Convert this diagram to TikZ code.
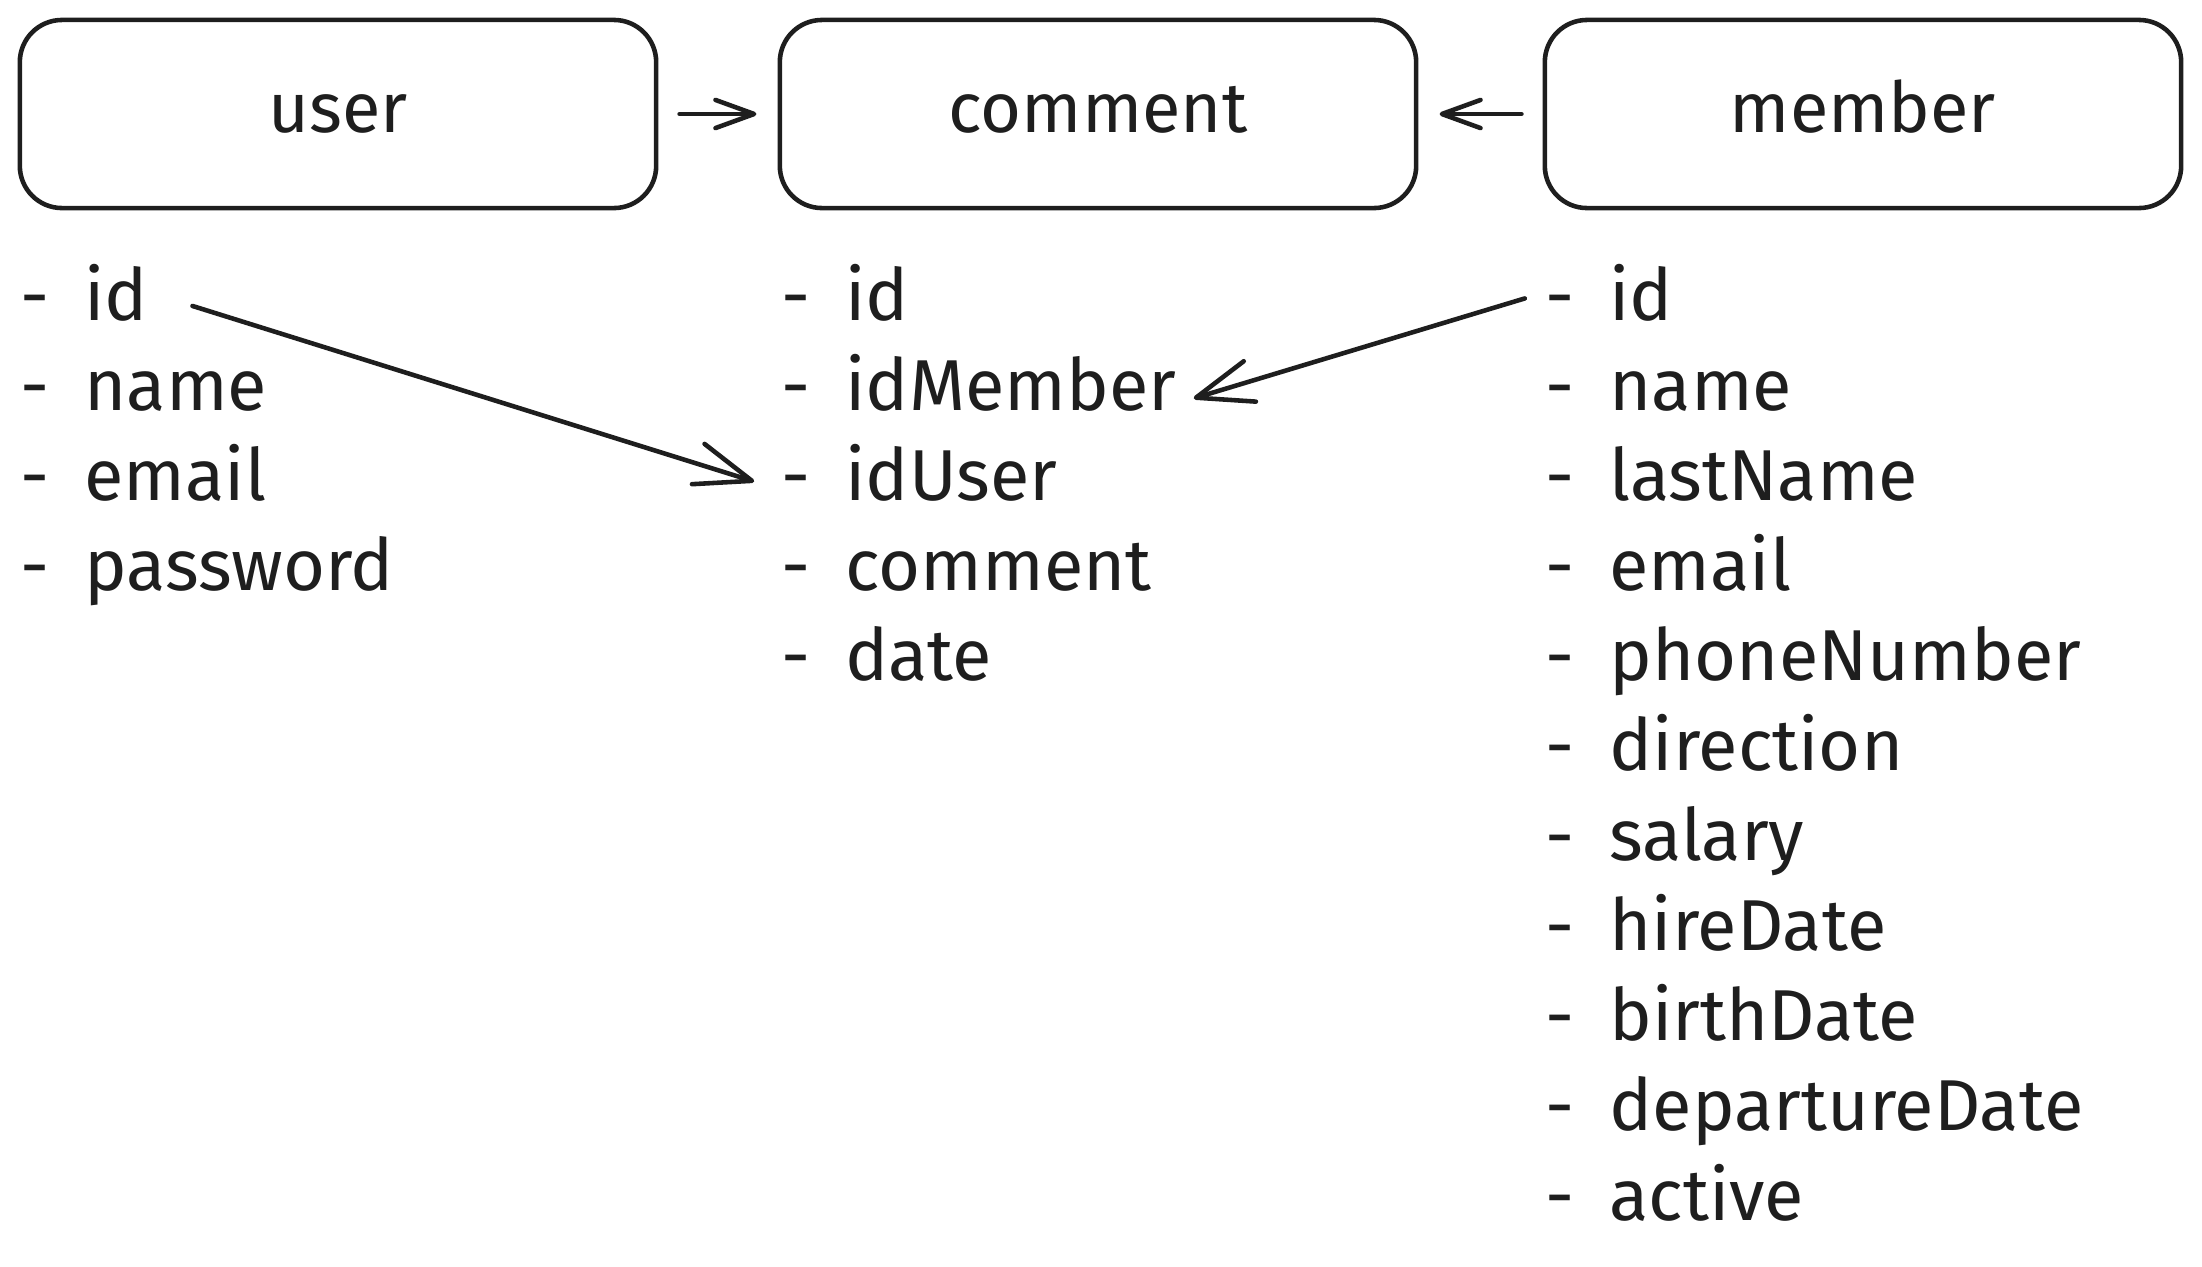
\documentclass[tikz,border=0pt]{standalone}
\usepackage{fontspec}
\setmainfont{Fira Sans}
\usetikzlibrary{arrows.meta}
\definecolor{ink}{HTML}{1E1E1E}
\newcommand\attr[1]{\makebox[18.2pt][l]{-}#1}
\tikzset{
  table/.style={draw=ink,text=ink,line width=1.3pt,rounded corners=12pt,
    minimum width=6.36cm,minimum height=1.88cm,text height=10.5pt,text depth=0pt,
    font=\fontsize{20}{24}\selectfont},
  field/.style={anchor=base west,inner sep=0pt,text=ink,font=\fontsize{20.5}{24}\selectfont},
  link/.style={draw=ink,line width=1.3pt,line cap=round,
    -{Straight Barb[length=11pt,width=8pt,round]},shorten <=6pt,shorten >=6pt},
  fkey/.style={draw=ink,line width=1.3pt,line cap=round,
    -{Straight Barb[length=16pt,width=12pt,round]}},
}

\begin{document}
\begin{tikzpicture}[x=0.01cm,y=-0.01cm]
\useasboundingbox (0,0) rectangle (2202,1266);

% tables
\node[table] (user) at (338,114) {user};
\node[table] (comment) at (1098,114) {comment};
\node[table] (member) at (1863,114) {member};

% fields
\foreach \t [count=\i] in {id,name,email,password}
  \node[field] (u\i) at (20,{320+90*(\i-1)}) {\attr{\t}};
\foreach \t [count=\i] in {id,idMember,idUser,comment,date}
  \node[field] (c\i) at (781,{320+90*(\i-1)}) {\attr{\t}};
\foreach \t [count=\i] in {id,name,lastName,email,phoneNumber,direction,salary,hireDate,birthDate,departureDate,active}
  \node[field] (m\i) at (1545,{320+90*(\i-1)}) {\attr{\t}};

% relations
\draw[link] (user) -- (comment);
\draw[link] (member) -- (comment);
\draw[fkey,shorten <=13pt,shorten >=8pt] (u1.east) -- ([yshift=-5pt]c3.west);
\draw[fkey,shorten <=6pt,shorten >=5pt] (m1.west) -- ([yshift=-6pt]c2.east);
\end{tikzpicture}
\end{document}
